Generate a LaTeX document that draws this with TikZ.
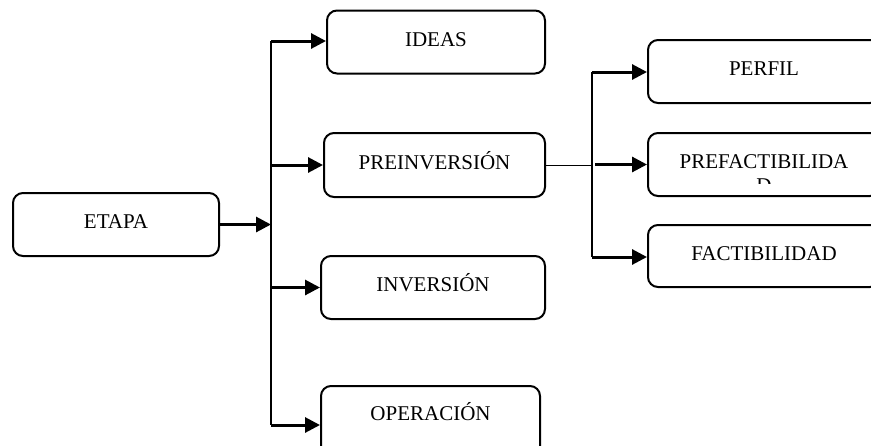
\documentclass[tikz,border=0pt]{standalone}
\usepackage{fontspec}
\setmainfont{Liberation Serif}
\usetikzlibrary{arrows.meta}
\begin{document}
\begin{tikzpicture}[x=.5pt, y=-.5pt,
    >={Triangle[length=7.5pt,width=7.5pt]},
    etapa/.style={draw, line width=1pt, rounded corners=5pt, minimum height=31.5pt,
        text height=7pt, text depth=3pt, inner sep=0pt,
        font=\fontsize{10.5}{13}\selectfont},
    flecha/.style={->, line width=1.5pt},
    tronco/.style={line width=1pt}]
    \useasboundingbox (0,0) rectangle (871,445);
    \clip (0,0) rectangle (871,445);
    % cajas
    \node[etapa, minimum width=103pt] (etapa) at (116,224.5) {ETAPA};
    \node[etapa, minimum width=109pt] (ideas) at (436,42) {IDEAS};
    \node[etapa, minimum width=110.5pt, minimum height=32pt] (preinv) at (434.5,165) {PREINVERSIÓN};
    \node[etapa, minimum width=112pt] (inv) at (433,287.5) {INVERSIÓN};
    \node[etapa, minimum width=109.5pt, minimum height=40pt, text depth=13pt] (oper) at (430.5,426) {OPERACIÓN};
    \node[etapa, minimum width=116pt] (perfil) at (764,71.5) {PERFIL};
    \node[etapa, minimum width=116pt] (prefact) at (764,164.5) {PREFACTIBILIDA};
    \node[etapa, minimum width=116pt, minimum height=31pt] (fact) at (764,256) {FACTIBILIDAD};
    \begin{scope}
        \clip (650,133) rectangle (878,183);
        \node[font=\fontsize{10.5}{13}\selectfont, inner sep=0pt] (prefD) at (764,186) {D};
    \end{scope}
    % conectores
    \coordinate (ttop) at (271,41);
    \coordinate (tbot) at (271,425);
    \coordinate (rtop) at (592,72);
    \coordinate (rbot) at (592,257);
    \draw[tronco] (ttop)--(tbot);
    \draw[flecha] (etapa.east)--(etapa.east -| ttop);
    \draw[flecha] (ttop)--(ttop -| ideas.west);
    \draw[flecha] (preinv.west -| ttop)--(preinv.west);
    \draw[flecha] (inv.west -| ttop)--(inv.west);
    \draw[flecha] (tbot)--(tbot -| oper.west);
    \draw[line width=.5pt] (preinv.east)--(preinv.east -| rtop);
    \draw[tronco] (rtop)--(rbot);
    \draw[flecha] (rtop)--(rtop -| perfil.west);
    \draw[flecha] ([xshift=1.5pt]prefact.west -| rtop)--(prefact.west);
    \draw[flecha] (rbot)--(rbot -| fact.west);
\end{tikzpicture}
\end{document}
